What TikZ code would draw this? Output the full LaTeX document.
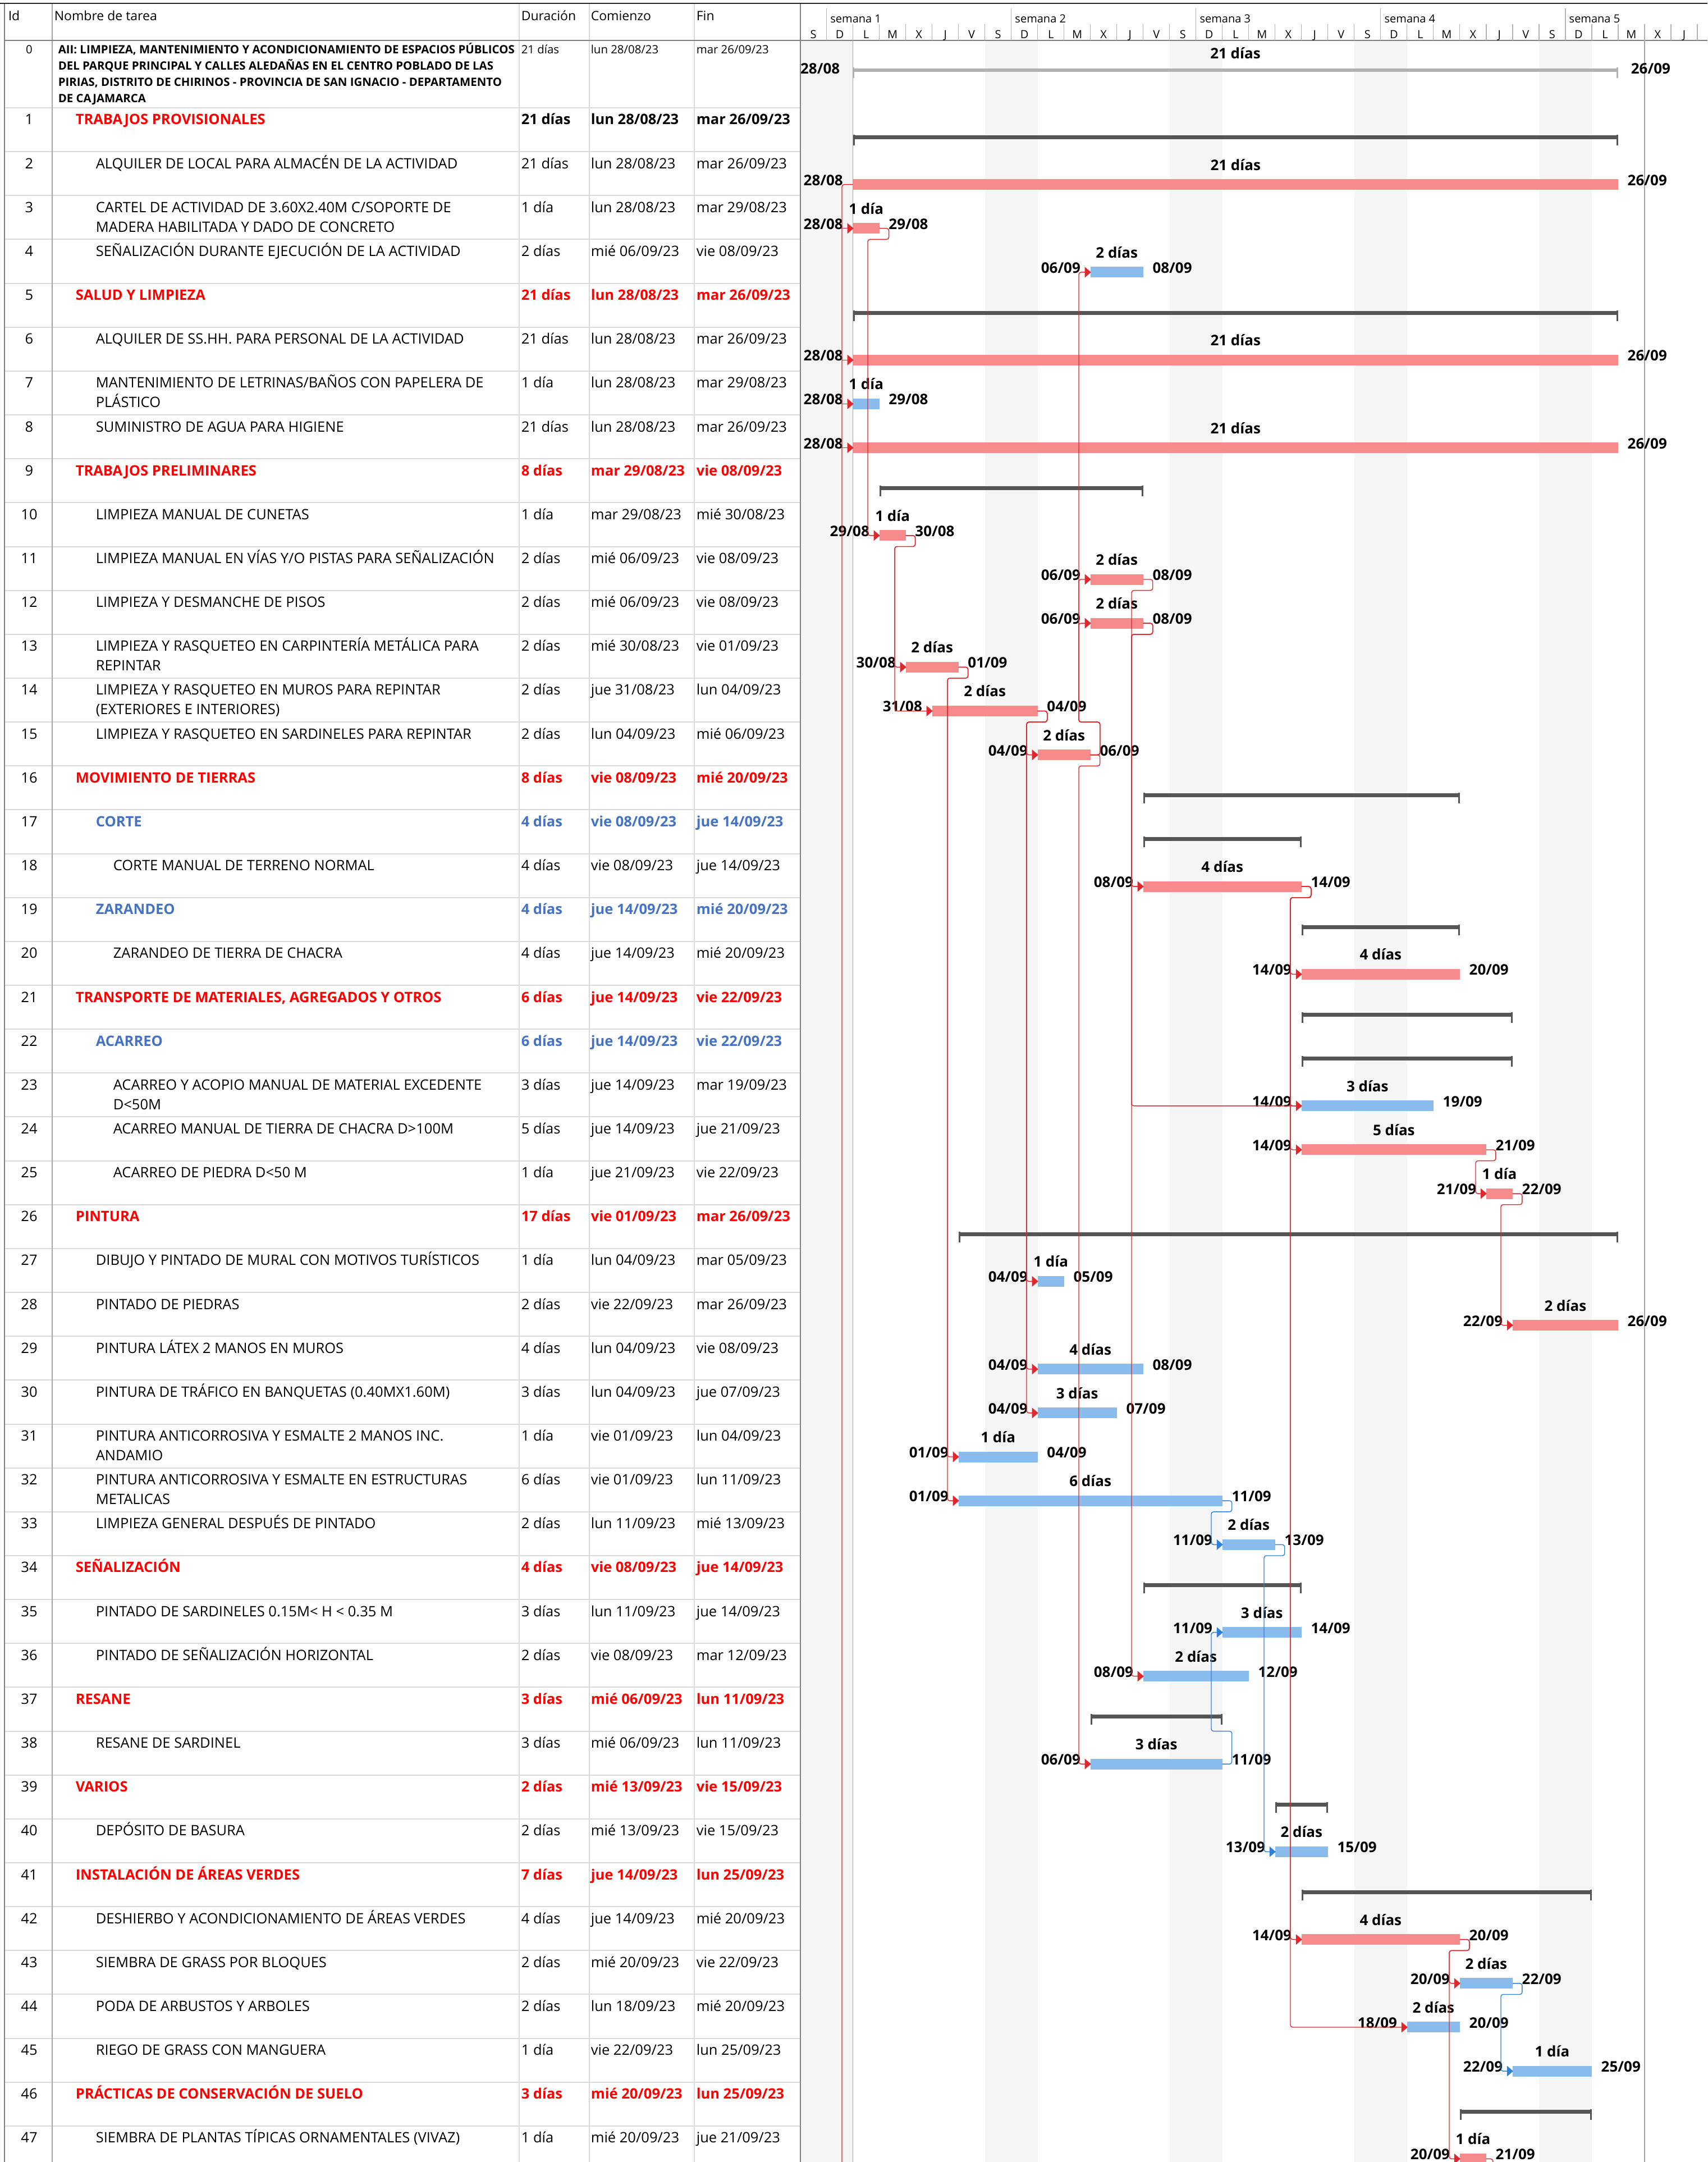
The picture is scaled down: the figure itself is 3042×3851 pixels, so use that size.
\documentclass[tikz,border=0pt]{standalone}
\usepackage{fontspec}
\setmainfont{Open Sans}
\definecolor{critfill}{HTML}{F78A8A}
\definecolor{taskfill}{HTML}{8ABBED}
\definecolor{sumfill}{HTML}{555555}
\definecolor{projfill}{HTML}{B2B2B2}
\definecolor{linkred}{HTML}{E3262B}
\definecolor{linkblue}{HTML}{2F80D8}
\definecolor{txtred}{HTML}{FF0000}
\definecolor{txtblue}{HTML}{4472C4}
\definecolor{wkend}{HTML}{F5F5F5}
\definecolor{gridln}{HTML}{DADADA}

\tikzset{
  nrm/.style={inner sep=0pt, font=\fontsize{6.375}{7.6}\selectfont},
  hbold/.style={inner sep=0pt, font=\fontsize{6.375}{7.6}\selectfont\bfseries},
  hred/.style={hbold, text=txtred},
  hblue/.style={hbold, text=txtblue},
  hdr/.style={inner sep=0pt, font=\fontsize{5.75}{7}\selectfont},
  tsc/.style={inner sep=0pt, font=\fontsize{5}{6}\selectfont},
  lbl/.style={inner sep=0pt, font=\fontsize{6.5}{7.8}\selectfont\bfseries},
  prj/.style={inner sep=0pt, font=\fontsize{5.1}{6}\selectfont},
  prjname/.style={inner sep=0pt, font=\fontsize{5.1}{6}\selectfont\bfseries},
  redlink/.style={linkred, line width=0.35pt, rounded corners=1pt},
  bluelink/.style={linkblue, line width=0.35pt, rounded corners=1pt},
}

% one line of the table: row, indent, name style, column style, name, 2nd line, duration, start, finish
\newcommand\taskrow[9]{%
  \pgfmathsetmacro\ry{192+78.15*(#1-1)+30}
  \node[nrm, anchor=base] (id#1) at (52,\ry) {#1};
  \node[#3, anchor=base west] (nm#1) at (#2,\ry) {#5};
  \if\relax\detokenize{#6}\relax\else
    \node[#3, anchor=base west] (nx#1) at (#2,\ry+35) {#6};
  \fi
  \node[#4, anchor=base west] (du#1) at (928,\ry) {#7};
  \node[#4, anchor=base west] (co#1) at (1052,\ry) {#8};
  \node[#4, anchor=base west] (fi#1) at (1240,\ry) {#9};
}
% task bar: row, first day, last day, fill, duration, from, to
\newcommand\taskbar[7]{%
  \pgfmathsetmacro\gy{192+78.15*(#1-1)}
  \pgfmathsetmacro\gxa{1519.6+47.01*#2}
  \pgfmathsetmacro\gxb{1519.6+47.01*#3}
  \fill[#4] (\gxa,\gy+49) rectangle (\gxb,\gy+68);
  \coordinate (s#1) at (\gxa,\gy+58.5);
  \coordinate (e#1) at (\gxb,\gy+58.5);
  \coordinate (t#1) at (\gxb,\gy);
  \coordinate (b#1) at (\gxb,\gy+78.15);
  \node[lbl, anchor=base] (d#1) at ({(\gxa+\gxb)/2},\gy+33) {#5};
  \node[lbl, anchor=base east] (f#1) at (\gxa-17,\gy+60) {#6};
  \node[lbl, anchor=base west] (u#1) at (\gxb+16,\gy+60) {#7};
}
% summary bar: row, first day, last day
\newcommand\sumbar[3]{%
  \pgfmathsetmacro\gy{192+78.15*(#1-1)}
  \pgfmathsetmacro\gxa{1519.6+47.01*#2}
  \pgfmathsetmacro\gxb{1519.6+47.01*#3}
  \fill[sumfill] (\gxa,\gy+49) rectangle (\gxb,\gy+56);
  \fill[sumfill] (\gxa,\gy+48) rectangle (\gxa+3,\gy+67);
  \fill[sumfill] (\gxb-3,\gy+48) rectangle (\gxb,\gy+67);
}
% finish-to-start link: style, pred, level, corridor, succ
\newcommand\fslink[5]{\draw[#1] (e#2) -- ++(17,0) |- (#4 |- #3) |- (s#5);}
\newcommand\linkarrow[2]{\fill[#1] ([xshift=0.25pt]s#2) -- ++(-11,-9.5) -- ++(0,19) -- cycle;}

\begin{document}
\begin{tikzpicture}[x=0.25pt, y=-0.25pt]
\useasboundingbox (0,0) rectangle (3042,3851);

% weekends
\foreach \k in {0,...,4}
  \fill[wkend] (1425.6+329.07*\k,72) rectangle ++(94,3779);

% table grid
\foreach \k in {0,...,46}
  \draw[gridln, line width=0.5pt] (8,192+78.15*\k) -- (1426,192+78.15*\k);
\foreach \x in {925,1050,1237}
  \draw[gridln, line width=0.3pt] (\x,6) -- (\x,3851);
\draw[gray!70, line width=0.4pt] (93,6) -- (93,3851);
\draw[gray, line width=0.5pt] (8,6) -- (8,3851);
\draw[gray, line width=0.5pt] (1426,6) -- (1426,3851);
\draw[gray, line width=0.5pt] (8,72) -- (3042,72);
\draw[black!85, line width=0.7pt] (0,6) -- (3042,6);
\draw[gray!70, line width=0.3pt] (1519.6,72) -- (1519.6,3851);
\draw[gray!70, line width=0.3pt] (2930,72) -- (2930,3851);

% headers
\node[hdr, anchor=base west] (hid) at (14,37) {Id};
\node[hdr, anchor=base west] (hnm) at (96,37) {Nombre de tarea};
\node[hdr, anchor=base west] (hdu) at (928,37) {Duración};
\node[hdr, anchor=base west] (hco) at (1052,37) {Comienzo};
\node[hdr, anchor=base west] (hfi) at (1240,37) {Fin};

% timescale
\foreach \k in {1,...,5} {
  \draw[gray!60, line width=0.3pt] (1472.6+329.07*\k-329.07,15) -- ++(0,57);
  \node[tsc, anchor=base west] (wk\k) at (1478.6+329.07*\k-329.07,41) {semana \k};
}
\foreach \d [count=\c from 0] in {S,D,L,M,X,J,V,S,D,L,M,X,J,V,S,D,L,M,X,J,V,S,D,L,M,X,J,V,S,D,L,M,X,J} {
  \draw[gray!60, line width=0.3pt] (1425.6+47.01*\c+47.01,43) -- ++(0,29);
  \node[tsc, anchor=base] (dy\c) at (1449.1+47.01*\c,69) {\d};
}

% row 0
\node[prj, anchor=base] (id0) at (52,96) {0};
\node[prjname, anchor=base west] (nm0a) at (103,96) {AII: LIMPIEZA, MANTENIMIENTO Y ACONDICIONAMIENTO DE ESPACIOS PÚBLICOS};
\node[prjname, anchor=base west] (nm0b) at (103,125) {DEL PARQUE PRINCIPAL Y CALLES ALEDAÑAS EN EL CENTRO POBLADO DE LAS};
\node[prjname, anchor=base west] (nm0c) at (103,154) {PIRIAS, DISTRITO DE CHIRINOS - PROVINCIA DE SAN IGNACIO - DEPARTAMENTO};
\node[prjname, anchor=base west] (nm0d) at (103,183) {DE CAJAMARCA};
\node[prj, anchor=base west] (du0) at (928,96) {21 días};
\node[prj, anchor=base west] (co0) at (1052,96) {lun 28/08/23};
\node[prj, anchor=base west] (fi0) at (1240,96) {mar 26/09/23};
\fill[projfill] (1519.6,122) rectangle (2882.9,128);
\fill[projfill] (1519.6,120) rectangle (1522.1,139);
\fill[projfill] (2880.4,120) rectangle (2882.9,139);
\node[lbl, anchor=base] (d0) at (2201,105) {21 días};
\node[lbl, anchor=base east] (f0) at (1497,132) {28/08};
\node[lbl, anchor=base west] (u0) at (2905,132) {26/09};

% table rows
\taskrow{1}{134}{hred}{hbold}{TRABAJOS PROVISIONALES}{}{21 días}{lun 28/08/23}{mar 26/09/23}
\taskrow{2}{170}{nrm}{nrm}{ALQUILER DE LOCAL PARA ALMACÉN DE LA ACTIVIDAD}{}{21 días}{lun 28/08/23}{mar 26/09/23}
\taskrow{3}{170}{nrm}{nrm}{CARTEL DE ACTIVIDAD DE 3.60X2.40M C/SOPORTE DE}{MADERA HABILITADA Y DADO DE CONCRETO}{1 día}{lun 28/08/23}{mar 29/08/23}
\taskrow{4}{170}{nrm}{nrm}{SEÑALIZACIÓN DURANTE EJECUCIÓN DE LA ACTIVIDAD}{}{2 días}{mié 06/09/23}{vie 08/09/23}
\taskrow{5}{134}{hred}{hred}{SALUD Y LIMPIEZA}{}{21 días}{lun 28/08/23}{mar 26/09/23}
\taskrow{6}{170}{nrm}{nrm}{ALQUILER DE SS.HH. PARA PERSONAL DE LA ACTIVIDAD}{}{21 días}{lun 28/08/23}{mar 26/09/23}
\taskrow{7}{170}{nrm}{nrm}{MANTENIMIENTO DE LETRINAS/BAÑOS CON PAPELERA DE}{PLÁSTICO}{1 día}{lun 28/08/23}{mar 29/08/23}
\taskrow{8}{170}{nrm}{nrm}{SUMINISTRO DE AGUA PARA HIGIENE}{}{21 días}{lun 28/08/23}{mar 26/09/23}
\taskrow{9}{134}{hred}{hred}{TRABAJOS PRELIMINARES}{}{8 días}{mar 29/08/23}{vie 08/09/23}
\taskrow{10}{170}{nrm}{nrm}{LIMPIEZA MANUAL DE CUNETAS}{}{1 día}{mar 29/08/23}{mié 30/08/23}
\taskrow{11}{170}{nrm}{nrm}{LIMPIEZA MANUAL EN VÍAS Y/O PISTAS PARA SEÑALIZACIÓN}{}{2 días}{mié 06/09/23}{vie 08/09/23}
\taskrow{12}{170}{nrm}{nrm}{LIMPIEZA Y DESMANCHE DE PISOS}{}{2 días}{mié 06/09/23}{vie 08/09/23}
\taskrow{13}{170}{nrm}{nrm}{LIMPIEZA Y RASQUETEO EN CARPINTERÍA METÁLICA PARA}{REPINTAR}{2 días}{mié 30/08/23}{vie 01/09/23}
\taskrow{14}{170}{nrm}{nrm}{LIMPIEZA Y RASQUETEO EN MUROS PARA REPINTAR}{(EXTERIORES E INTERIORES)}{2 días}{jue 31/08/23}{lun 04/09/23}
\taskrow{15}{170}{nrm}{nrm}{LIMPIEZA Y RASQUETEO EN SARDINELES PARA REPINTAR}{}{2 días}{lun 04/09/23}{mié 06/09/23}
\taskrow{16}{134}{hred}{hred}{MOVIMIENTO DE TIERRAS}{}{8 días}{vie 08/09/23}{mié 20/09/23}
\taskrow{17}{170}{hblue}{hblue}{CORTE}{}{4 días}{vie 08/09/23}{jue 14/09/23}
\taskrow{18}{201}{nrm}{nrm}{CORTE MANUAL DE TERRENO NORMAL}{}{4 días}{vie 08/09/23}{jue 14/09/23}
\taskrow{19}{170}{hblue}{hblue}{ZARANDEO}{}{4 días}{jue 14/09/23}{mié 20/09/23}
\taskrow{20}{201}{nrm}{nrm}{ZARANDEO DE TIERRA DE CHACRA}{}{4 días}{jue 14/09/23}{mié 20/09/23}
\taskrow{21}{134}{hred}{hred}{TRANSPORTE DE MATERIALES, AGREGADOS Y OTROS}{}{6 días}{jue 14/09/23}{vie 22/09/23}
\taskrow{22}{170}{hblue}{hblue}{ACARREO}{}{6 días}{jue 14/09/23}{vie 22/09/23}
\taskrow{23}{201}{nrm}{nrm}{ACARREO Y ACOPIO MANUAL DE MATERIAL EXCEDENTE}{D<50M}{3 días}{jue 14/09/23}{mar 19/09/23}
\taskrow{24}{201}{nrm}{nrm}{ACARREO MANUAL DE TIERRA DE CHACRA D>100M}{}{5 días}{jue 14/09/23}{jue 21/09/23}
\taskrow{25}{201}{nrm}{nrm}{ACARREO DE PIEDRA D<50 M}{}{1 día}{jue 21/09/23}{vie 22/09/23}
\taskrow{26}{134}{hred}{hred}{PINTURA}{}{17 días}{vie 01/09/23}{mar 26/09/23}
\taskrow{27}{170}{nrm}{nrm}{DIBUJO Y PINTADO DE MURAL CON MOTIVOS TURÍSTICOS}{}{1 día}{lun 04/09/23}{mar 05/09/23}
\taskrow{28}{170}{nrm}{nrm}{PINTADO DE PIEDRAS}{}{2 días}{vie 22/09/23}{mar 26/09/23}
\taskrow{29}{170}{nrm}{nrm}{PINTURA LÁTEX 2 MANOS EN MUROS}{}{4 días}{lun 04/09/23}{vie 08/09/23}
\taskrow{30}{170}{nrm}{nrm}{PINTURA DE TRÁFICO EN BANQUETAS (0.40MX1.60M)}{}{3 días}{lun 04/09/23}{jue 07/09/23}
\taskrow{31}{170}{nrm}{nrm}{PINTURA ANTICORROSIVA Y ESMALTE 2 MANOS INC.}{ANDAMIO}{1 día}{vie 01/09/23}{lun 04/09/23}
\taskrow{32}{170}{nrm}{nrm}{PINTURA ANTICORROSIVA Y ESMALTE EN ESTRUCTURAS}{METALICAS}{6 días}{vie 01/09/23}{lun 11/09/23}
\taskrow{33}{170}{nrm}{nrm}{LIMPIEZA GENERAL DESPUÉS DE PINTADO}{}{2 días}{lun 11/09/23}{mié 13/09/23}
\taskrow{34}{134}{hred}{hred}{SEÑALIZACIÓN}{}{4 días}{vie 08/09/23}{jue 14/09/23}
\taskrow{35}{170}{nrm}{nrm}{PINTADO DE SARDINELES 0.15M< H < 0.35 M}{}{3 días}{lun 11/09/23}{jue 14/09/23}
\taskrow{36}{170}{nrm}{nrm}{PINTADO DE SEÑALIZACIÓN HORIZONTAL}{}{2 días}{vie 08/09/23}{mar 12/09/23}
\taskrow{37}{134}{hred}{hred}{RESANE}{}{3 días}{mié 06/09/23}{lun 11/09/23}
\taskrow{38}{170}{nrm}{nrm}{RESANE DE SARDINEL}{}{3 días}{mié 06/09/23}{lun 11/09/23}
\taskrow{39}{134}{hred}{hred}{VARIOS}{}{2 días}{mié 13/09/23}{vie 15/09/23}
\taskrow{40}{170}{nrm}{nrm}{DEPÓSITO DE BASURA}{}{2 días}{mié 13/09/23}{vie 15/09/23}
\taskrow{41}{134}{hred}{hred}{INSTALACIÓN DE ÁREAS VERDES}{}{7 días}{jue 14/09/23}{lun 25/09/23}
\taskrow{42}{170}{nrm}{nrm}{DESHIERBO Y ACONDICIONAMIENTO DE ÁREAS VERDES}{}{4 días}{jue 14/09/23}{mié 20/09/23}
\taskrow{43}{170}{nrm}{nrm}{SIEMBRA DE GRASS POR BLOQUES}{}{2 días}{mié 20/09/23}{vie 22/09/23}
\taskrow{44}{170}{nrm}{nrm}{PODA DE ARBUSTOS Y ARBOLES}{}{2 días}{lun 18/09/23}{mié 20/09/23}
\taskrow{45}{170}{nrm}{nrm}{RIEGO DE GRASS CON MANGUERA}{}{1 día}{vie 22/09/23}{lun 25/09/23}
\taskrow{46}{134}{hred}{hred}{PRÁCTICAS DE CONSERVACIÓN DE SUELO}{}{3 días}{mié 20/09/23}{lun 25/09/23}
\taskrow{47}{170}{nrm}{nrm}{SIEMBRA DE PLANTAS TÍPICAS ORNAMENTALES (VIVAZ)}{}{1 día}{mié 20/09/23}{jue 21/09/23}

% summary bars
\sumbar{1}{0}{29} \sumbar{5}{0}{29} \sumbar{9}{1}{11} \sumbar{16}{11}{23}
\sumbar{17}{11}{17} \sumbar{19}{17}{23} \sumbar{21}{17}{25} \sumbar{22}{17}{25}
\sumbar{26}{4}{29} \sumbar{34}{11}{17} \sumbar{37}{9}{14} \sumbar{39}{16}{18}
\sumbar{41}{17}{28} \sumbar{46}{23}{28}

% task bars
\taskbar{2}{0}{29}{critfill}{21 días}{28/08}{26/09}
\taskbar{3}{0}{1}{critfill}{1 día}{28/08}{29/08}
\taskbar{4}{9}{11}{taskfill}{2 días}{06/09}{08/09}
\taskbar{6}{0}{29}{critfill}{21 días}{28/08}{26/09}
\taskbar{7}{0}{1}{taskfill}{1 día}{28/08}{29/08}
\taskbar{8}{0}{29}{critfill}{21 días}{28/08}{26/09}
\taskbar{10}{1}{2}{critfill}{1 día}{29/08}{30/08}
\taskbar{11}{9}{11}{critfill}{2 días}{06/09}{08/09}
\taskbar{12}{9}{11}{critfill}{2 días}{06/09}{08/09}
\taskbar{13}{2}{4}{critfill}{2 días}{30/08}{01/09}
\taskbar{14}{3}{7}{critfill}{2 días}{31/08}{04/09}
\taskbar{15}{7}{9}{critfill}{2 días}{04/09}{06/09}
\taskbar{18}{11}{17}{critfill}{4 días}{08/09}{14/09}
\taskbar{20}{17}{23}{critfill}{4 días}{14/09}{20/09}
\taskbar{23}{17}{22}{taskfill}{3 días}{14/09}{19/09}
\taskbar{24}{17}{24}{critfill}{5 días}{14/09}{21/09}
\taskbar{25}{24}{25}{critfill}{1 día}{21/09}{22/09}
\taskbar{27}{7}{8}{taskfill}{1 día}{04/09}{05/09}
\taskbar{28}{25}{29}{critfill}{2 días}{22/09}{26/09}
\taskbar{29}{7}{11}{taskfill}{4 días}{04/09}{08/09}
\taskbar{30}{7}{10}{taskfill}{3 días}{04/09}{07/09}
\taskbar{31}{4}{7}{taskfill}{1 día}{01/09}{04/09}
\taskbar{32}{4}{14}{taskfill}{6 días}{01/09}{11/09}
\taskbar{33}{14}{16}{taskfill}{2 días}{11/09}{13/09}
\taskbar{35}{14}{17}{taskfill}{3 días}{11/09}{14/09}
\taskbar{36}{11}{15}{taskfill}{2 días}{08/09}{12/09}
\taskbar{38}{9}{14}{taskfill}{3 días}{06/09}{11/09}
\taskbar{40}{16}{18}{taskfill}{2 días}{13/09}{15/09}
\taskbar{42}{17}{23}{critfill}{4 días}{14/09}{20/09}
\taskbar{43}{23}{25}{taskfill}{2 días}{20/09}{22/09}
\taskbar{44}{21}{23}{taskfill}{2 días}{18/09}{20/09}
\taskbar{45}{25}{28}{taskfill}{1 día}{22/09}{25/09}
\taskbar{47}{23}{24}{critfill}{1 día}{20/09}{21/09}

% link corridors
\coordinate (k2) at (1500,0);  \coordinate (k3) at (1546,0);
\coordinate (k10) at (1594,0); \coordinate (k13) at (1688,0);
\coordinate (k14) at (1829,0); \coordinate (k15) at (1922,0);
\coordinate (k11) at (2016,0); \coordinate (k18) at (2299,0);
\coordinate (k24) at (2629,0); \coordinate (k25) at (2674,0);
\coordinate (k42) at (2582,0); \coordinate (k32) at (2158,0);
\coordinate (k33) at (2252,0); \coordinate (k43) at (2674,0);
\coordinate (bot) at (0,3851);

% links
\draw[redlink] (s2) -- (k2 |- s2) -- (k2 |- bot);
\foreach \n in {3,6,7,8} {\draw[redlink] (k2 |- s\n) -- (s\n);}
\fslink{redlink}{3}{b3}{k3}{10}
\foreach \n in {13,14} {\fslink{redlink}{10}{b10}{k10}{\n}}
\foreach \n in {31,32} {\fslink{redlink}{13}{b13}{k13}{\n}}
\foreach \n in {15,27,29,30} {\fslink{redlink}{14}{b14}{k14}{\n}}
\foreach \n in {4,11,12} {\fslink{redlink}{15}{t15}{k15}{\n}}
\fslink{redlink}{15}{b15}{k15}{38}
\fslink{redlink}{11}{b11}{k11}{18}
\foreach \n in {18,23,36} {\fslink{redlink}{12}{b12}{k11}{\n}}
\foreach \n in {20,23,24,42,44} {\fslink{redlink}{18}{b18}{k18}{\n}}
\fslink{redlink}{24}{b24}{k24}{25}
\fslink{redlink}{25}{b25}{k25}{28}
\foreach \n in {43,47} {\fslink{redlink}{42}{b42}{k42}{\n}}
\draw[redlink] (e47) -- ++(12,0) -- ++(0,20);
\fslink{bluelink}{32}{b32}{k32}{33}
\fslink{bluelink}{38}{t38}{k32}{35}
\fslink{bluelink}{33}{b33}{k33}{40}
\fslink{bluelink}{43}{b43}{k43}{45}

% arrow heads
\foreach \n in {3,4,6,7,8,10,11,12,13,14,15,18,20,23,24,25,27,28,29,30,31,32,36,38,42,43,44,47}
  {\linkarrow{linkred}{\n}}
\foreach \n in {33,35,40,45}
  {\linkarrow{linkblue}{\n}}
\end{tikzpicture}
\end{document}
